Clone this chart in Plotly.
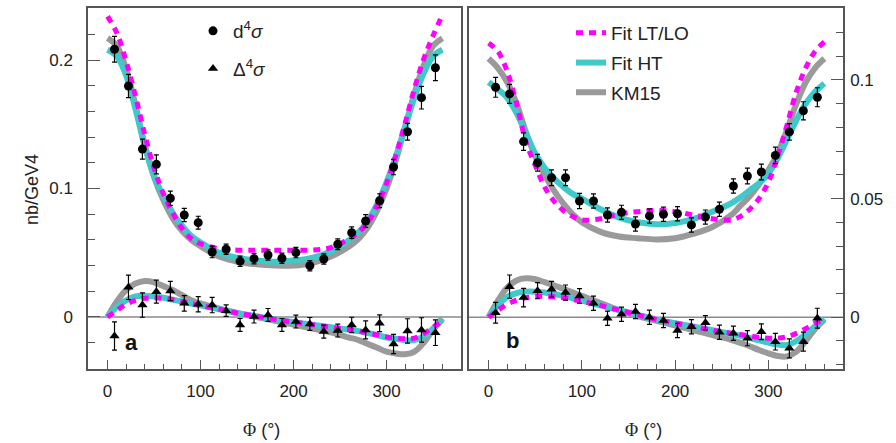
import plotly.graph_objects as go

# ---------------- data ----------------
phi_bins = [7.5, 22.5, 37.5, 52.5, 67.5, 82.5, 97.5, 112.5, 127.5, 142.5, 157.5, 172.5,
            187.5, 202.5, 217.5, 232.5, 247.5, 262.5, 277.5, 292.5, 307.5, 322.5, 337.5, 352.5]

# panel a
xs_a = [0.2084, 0.1798, 0.1307, 0.1188, 0.0924, 0.0794, 0.0734, 0.0506, 0.0527, 0.0433, 0.0454, 0.0482,
        0.0457, 0.0501, 0.0399, 0.0451, 0.0566, 0.0656, 0.0747, 0.0905, 0.1167, 0.1442, 0.1707, 0.1940]
xs_a_err = [0.010, 0.009, 0.0078, 0.0074, 0.0055, 0.0052, 0.005, 0.0045, 0.004, 0.004, 0.004, 0.004,
            0.004, 0.004, 0.004, 0.004, 0.0042, 0.0045, 0.005, 0.0054, 0.006, 0.0065, 0.0088, 0.010]
dl_a = [-0.0148, 0.0231, 0.0093, 0.0197, 0.0202, 0.0106, 0.0099, 0.0093, 0.0049, -0.0062, 0.0003, 0.0016,
        -0.0062, -0.0036, -0.0054, -0.0114, -0.0106, -0.0062, -0.0101, -0.0049, -0.0210, -0.0109, -0.0101, -0.0122]
dl_a_err = [0.011, 0.0095, 0.0095, 0.009, 0.0075, 0.006, 0.006, 0.006, 0.0045, 0.005, 0.005, 0.005,
            0.005, 0.005, 0.005, 0.005, 0.005, 0.006, 0.007, 0.0065, 0.0075, 0.0095, 0.0095, 0.010]

# panel b
xs_b = [0.0969, 0.0941, 0.0740, 0.0651, 0.0588, 0.0588, 0.0490, 0.0490, 0.0431, 0.0442, 0.0393, 0.0427,
        0.0434, 0.0436, 0.0389, 0.0422, 0.0455, 0.0553, 0.0595, 0.0612, 0.0682, 0.0781, 0.0870, 0.0927]
xs_b_err = [0.0042, 0.004, 0.0037, 0.0035, 0.0033, 0.0033, 0.0032, 0.003, 0.003, 0.003, 0.003, 0.003,
            0.003, 0.003, 0.003, 0.003, 0.003, 0.003, 0.0033, 0.0033, 0.0035, 0.0035, 0.0038, 0.004]
dl_b = [0.0019, 0.0129, 0.0083, 0.0112, 0.0118, 0.0104, 0.0090, 0.0059, -0.0004, 0.0013, 0.0024, 0.0000,
        -0.0014, -0.0056, -0.0040, -0.0023, -0.0063, -0.0067, -0.0088, -0.0061, -0.0103, -0.0131, -0.0103, -0.0004]
dl_b_err = [0.0044, 0.0049, 0.0039, 0.0034, 0.0033, 0.0032, 0.0031, 0.003, 0.003, 0.003, 0.003, 0.003,
            0.003, 0.003, 0.003, 0.003, 0.003, 0.003, 0.0032, 0.0033, 0.0035, 0.004, 0.004, 0.0042]

# curves (read at these phi values)
phi_curve = [0, 10, 20, 30, 40, 50, 60, 70, 80, 90, 100, 120, 140, 160, 180, 200, 220, 240,
             260, 270, 280, 290, 300, 310, 320, 330, 340, 350, 360]

lt_xs_a = [0.234, 0.221, 0.199, 0.172, 0.142, 0.116, 0.096, 0.081, 0.069, 0.061, 0.057, 0.053, 0.052, 0.052,
           0.052, 0.052, 0.052, 0.054, 0.061, 0.066, 0.074, 0.087, 0.104, 0.126, 0.151, 0.178, 0.201, 0.219, 0.235]
ht_xs_a = [0.208, 0.203, 0.188, 0.162, 0.133, 0.110, 0.094, 0.081, 0.071, 0.063, 0.058, 0.050, 0.046, 0.044,
           0.043, 0.044, 0.046, 0.051, 0.060, 0.066, 0.075, 0.088, 0.105, 0.125, 0.148, 0.171, 0.190, 0.203, 0.208]
km_xs_a = [0.217, 0.211, 0.193, 0.165, 0.134, 0.109, 0.091, 0.077, 0.067, 0.060, 0.055, 0.047, 0.043, 0.041,
           0.040, 0.040, 0.042, 0.047, 0.055, 0.061, 0.070, 0.083, 0.100, 0.122, 0.148, 0.174, 0.196, 0.211, 0.217]

lt_dl_a = [0.000, 0.005, 0.010, 0.013, 0.0145, 0.015, 0.0145, 0.0135, 0.012, 0.0105, 0.009, 0.006, 0.003, 0.0005,
           -0.002, -0.004, -0.006, -0.008, -0.010, -0.011, -0.0125, -0.014, -0.0155, -0.0165, -0.017, -0.0165, -0.013, -0.008, -0.003]
ht_dl_a = [0.000, 0.008, 0.013, 0.016, 0.0165, 0.016, 0.015, 0.0135, 0.012, 0.0105, 0.009, 0.006, 0.003, 0.0005,
           -0.002, -0.004, -0.006, -0.008, -0.010, -0.011, -0.0125, -0.014, -0.016, -0.017, -0.018, -0.018, -0.015, -0.009, -0.002]
km_dl_a = [0.000, 0.012, 0.021, 0.026, 0.028, 0.027, 0.024, 0.021, 0.017, 0.013, 0.0105, 0.0065, 0.003, 0.000,
           -0.003, -0.006, -0.009, -0.012, -0.016, -0.018, -0.021, -0.024, -0.027, -0.0285, -0.029, -0.027, -0.020, -0.010, -0.001]

lt_xs_b = [0.1155, 0.112, 0.1035, 0.090, 0.074, 0.064, 0.055, 0.049, 0.045, 0.0425, 0.041, 0.0415, 0.0435, 0.0445,
           0.045, 0.0445, 0.043, 0.0415, 0.041, 0.0425, 0.0455, 0.050, 0.057, 0.068, 0.081, 0.095, 0.105, 0.112, 0.116]
ht_xs_b = [0.0990, 0.096, 0.0925, 0.086, 0.0775, 0.069, 0.063, 0.0585, 0.055, 0.052, 0.050, 0.0455, 0.042, 0.040,
           0.0392, 0.0397, 0.0415, 0.0445, 0.048, 0.0505, 0.0535, 0.0565, 0.0605, 0.067, 0.075, 0.083, 0.090, 0.095, 0.0985]
km_xs_b = [0.1090, 0.105, 0.099, 0.090, 0.078, 0.068, 0.060, 0.0535, 0.048, 0.0435, 0.040, 0.036, 0.034, 0.0333,
           0.0328, 0.0333, 0.0352, 0.038, 0.043, 0.047, 0.051, 0.056, 0.062, 0.069, 0.079, 0.090, 0.099, 0.105, 0.109]

lt_dl_b = [0.000, 0.003, 0.0055, 0.0072, 0.0082, 0.0087, 0.0088, 0.0086, 0.0082, 0.0075, 0.0068, 0.005, 0.003, 0.001,
           -0.001, -0.0025, -0.004, -0.0055, -0.0067, -0.0073, -0.0079, -0.0085, -0.0088, -0.0088, -0.0082, -0.0068, -0.0048, -0.0025, -0.0008]
ht_dl_b = [0.000, 0.005, 0.0085, 0.0102, 0.0108, 0.0108, 0.0104, 0.0098, 0.009, 0.008, 0.007, 0.005, 0.003, 0.001,
           -0.001, -0.0025, -0.004, -0.0055, -0.007, -0.0078, -0.0087, -0.0097, -0.0107, -0.0115, -0.0117, -0.010, -0.0072, -0.0038, -0.0005]
km_dl_b = [0.000, 0.007, 0.0125, 0.0155, 0.0164, 0.016, 0.0148, 0.0135, 0.012, 0.0105, 0.009, 0.006, 0.003, 0.0005,
           -0.0015, -0.0035, -0.0055, -0.0075, -0.0095, -0.0108, -0.0122, -0.0138, -0.0152, -0.0163, -0.0165, -0.0145, -0.010, -0.005, -0.001]

x_ticks = [0, 100, 200, 300]

# ---------------- styles ----------------
MAG = "#FF00FF"
CYA = "#3FC9C9"
GRY = "#9A9A9A"
AX = "#555555"
FONT = "Liberation Sans, Arial, sans-serif"

fig = go.Figure()


def curves(xa, ya, lt, ht, km, show):
    fig.add_trace(go.Scatter(x=phi_curve, y=km, mode="lines", name="KM15", legend="legend2",
                             line=dict(color=GRY, width=6, shape="spline"), showlegend=show,
                             legendrank=3, legendgroup="km", xaxis=xa, yaxis=ya))
    fig.add_trace(go.Scatter(x=phi_curve, y=ht, mode="lines", name="Fit HT", legend="legend2",
                             line=dict(color=CYA, width=6, shape="spline"), showlegend=show,
                             legendrank=2, legendgroup="ht", xaxis=xa, yaxis=ya))
    fig.add_trace(go.Scatter(x=phi_curve, y=lt, mode="lines", name="Fit LT/LO", legend="legend2",
                             line=dict(color=MAG, width=5, shape="spline", dash="7px,6px"), showlegend=show,
                             legendrank=1, legendgroup="lt", xaxis=xa, yaxis=ya))


curves("x", "y", lt_xs_a, ht_xs_a, km_xs_a, False)
curves("x", "y", lt_dl_a, ht_dl_a, km_dl_a, False)
curves("x2", "y2", lt_xs_b, ht_xs_b, km_xs_b, True)
curves("x2", "y2", lt_dl_b, ht_dl_b, km_dl_b, False)


def points(xa, ya, y, err, sym, name, show, rank, grp):
    fig.add_trace(go.Scatter(x=phi_bins, y=y, mode="markers", name=name, legend="legend",
                             marker=dict(symbol=sym, size=9, color="black"),
                             error_y=dict(type="data", array=err, color="black", thickness=1.2, width=2.5),
                             showlegend=show, legendrank=rank, legendgroup=grp, xaxis=xa, yaxis=ya))


points("x", "y", xs_a, xs_a_err, "circle", "d<sup>4</sup><i>σ</i>", True, 1, "p1")
points("x", "y", dl_a, dl_a_err, "triangle-up", "Δ<sup>4</sup><i>σ</i>", True, 2, "p2")
points("x2", "y2", xs_b, xs_b_err, "circle", "d4", False, 1, "p1")
points("x2", "y2", dl_b, dl_b_err, "triangle-up", "D4", False, 2, "p2")

# zero lines
for xr, yr in [("x domain", "y"), ("x2 domain", "y2")]:
    fig.add_shape(type="line", xref=xr, yref=yr, x0=0, x1=1, y0=0, y1=0,
                  line=dict(color="#8A8A8A", width=1.5), layer="below")

xcommon = dict(range=[-21, 380], tickvals=x_ticks, ticks="inside", ticklen=9, tickwidth=1.2, tickcolor=AX,
               minor=dict(dtick=20, tick0=0, ticks="inside", ticklen=5, tickwidth=1.2, tickcolor=AX),
               showline=True, linecolor=AX, linewidth=1.5, mirror=True, showgrid=False, zeroline=False,
               tickfont=dict(family=FONT, size=17, color="#222"), ticklabelstandoff=6)

fig.update_layout(
    width=896, height=443, margin=dict(l=0, r=0, t=0, b=0),
    paper_bgcolor="white", plot_bgcolor="white",
    xaxis=dict(domain=[88 / 896, 461 / 896], anchor="y", **xcommon),
    xaxis2=dict(domain=[469 / 896, 843 / 896], anchor="y2", **xcommon),
    yaxis=dict(domain=[1 - 369 / 443, 1 - 8 / 443], anchor="x", range=[-0.0405, 0.2405],
               dtick=0.1, tick0=0, ticks="inside", ticklen=12, tickwidth=1.2, tickcolor=AX,
               minor=dict(dtick=0.02, tick0=0, ticks="inside", ticklen=7, tickwidth=1.2, tickcolor=AX),
               showline=True, linecolor=AX, linewidth=1.5, mirror=True, showgrid=False, zeroline=False,
               tickfont=dict(family=FONT, size=17, color="#222"), ticklabelstandoff=10),
    yaxis2=dict(domain=[1 - 369 / 443, 1 - 8 / 443], anchor="x2", side="right", range=[-0.0218, 0.1303],
                dtick=0.05, tick0=0, ticks="inside", ticklen=12, tickwidth=1.2, tickcolor=AX,
                minor=dict(dtick=0.01, tick0=0, ticks="inside", ticklen=7, tickwidth=1.2, tickcolor=AX),
                showline=True, linecolor=AX, linewidth=1.5, mirror=True, showgrid=False, zeroline=False,
                tickfont=dict(family=FONT, size=17, color="#222"), ticklabelstandoff=2),
    legend=dict(x=193 / 896, y=1 - 12 / 443, xanchor="left", yanchor="top", bgcolor="rgba(0,0,0,0)",
                font=dict(family=FONT, size=19, color="#222"), itemwidth=30, traceorder="grouped",
                tracegroupgap=10),
    legend2=dict(x=571 / 896, y=1 - 14 / 443, xanchor="left", yanchor="top", bgcolor="rgba(0,0,0,0)",
                 font=dict(family=FONT, size=19, color="#222"), itemwidth=30, traceorder="grouped",
                 tracegroupgap=2),
    showlegend=True,
)

ann_font = dict(family=FONT, size=18, color="#222")
phi_title = "<span style='font-family:Liberation Serif, Times New Roman, serif'>Φ</span> (°)"
fig.add_annotation(x=261 / 896, y=1 - 430 / 443, xref="paper", yref="paper", text=phi_title,
                   showarrow=False, font=ann_font, xanchor="center", yanchor="middle")
fig.add_annotation(x=643.5 / 896, y=1 - 430 / 443, xref="paper", yref="paper", text=phi_title,
                   showarrow=False, font=ann_font, xanchor="center", yanchor="middle")
fig.add_annotation(x=32 / 896, y=1 - 190 / 443, xref="paper", yref="paper", text="nb/GeV4",
                   showarrow=False, font=ann_font, textangle=-90, xanchor="center", yanchor="middle")
fig.add_annotation(x=26, y=-0.020, xref="x", yref="y", text="<b>a</b>", showarrow=False,
                   font=dict(family=FONT, size=22, color="#111"))
fig.add_annotation(x=26, y=-0.0096, xref="x2", yref="y2", text="<b>b</b>", showarrow=False,
                   font=dict(family=FONT, size=22, color="#111"))

fig.write_html("out.html")
